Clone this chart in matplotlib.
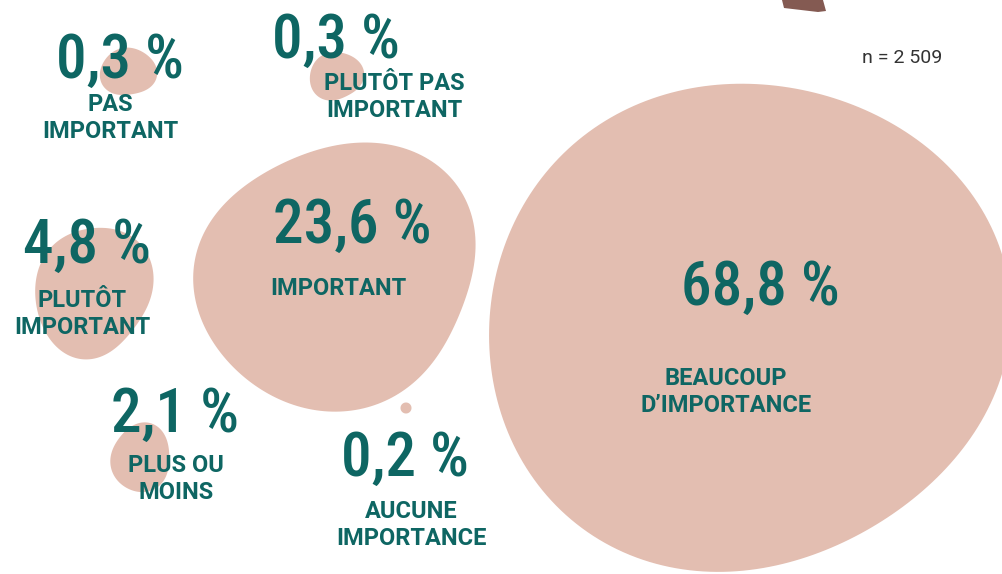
import numpy as np
import matplotlib
matplotlib.use('Agg')
import matplotlib.pyplot as plt
from matplotlib.patches import Polygon

# --- Daten ---
values = [0.3, 0.3, 23.6, 4.8, 68.8, 2.1, 0.2]
labels = ['PAS\nIMPORTANT', 'PLUTÔT PAS\nIMPORTANT', 'IMPORTANT', 'PLUTÔT\nIMPORTANT',
          'BEAUCOUP\nD\u2019IMPORTANCE', 'PLUS OU\nMOINS', 'AUCUNE\nIMPORTANCE']
n_total = '2 509'

# --- Layout (Pixel, y nach unten) ---
blob_xy = [(128, 72), (336, 76), (337, 275), (93, 291), (745, 326), (141, 458), (406, 408)]
blob_r = [(27, 25), (26, 25), (143, 130), (58, 66), (256, 248), (31, 33), (5.5, 5.5)]
blob_rot = [0.3, 0.8, 2.0, 1.4, 0.9, 2.6, 0.0]
blob_amp = [1.0, 1.0, 1.0, 1.0, 0.5, 1.0, 0.0]
num_xy = [(120, 78), (336, 58), (352, 243), (87, 263), (760, 305), (175, 432), (405, 476)]
lab_xy = [(110, 96), (394, 75), (338, 280), (82, 292), (726, 370), (176, 457), (411, 503)]

BLOB = '#e3beb1'
TEAL = '#0e6663'
NUMFONT = ['Liberation Sans Narrow', 'Roboto Condensed', 'DejaVu Sans']


def blob(cx, cy, rx, ry, rot, amp, n=240):
    t = np.linspace(0, 2 * np.pi, n)
    r = 1 + amp * (0.06 * np.cos(2 * t + rot) + 0.04 * np.sin(3 * t + 2 * rot))
    return np.column_stack([cx + rx * r * np.cos(t), cy + ry * r * np.sin(t)])


fig = plt.figure(figsize=(10.03, 5.74), dpi=100)
ax = fig.add_axes([0, 0, 1, 1])
ax.set_xlim(0, 1003); ax.set_ylim(574, 0); ax.axis('off')

for (cx, cy), (rx, ry), rot, amp in zip(blob_xy, blob_r, blob_rot, blob_amp):
    ax.add_patch(Polygon(blob(cx, cy, rx, ry, rot, amp), closed=True, fc=BLOB, ec='none', zorder=1))

# kleines Deko-Element oben rechts
ax.add_patch(Polygon([(782, 0), (823, 0), (826, 11), (818, 12), (784, 8)],
                     closed=True, fc='#845a52', ec='none', zorder=1))

for v, (x, y) in zip(values, num_xy):
    s = f'{v:.1f}'.replace('.', ',') + ' %'
    ax.text(x, y, s, ha='center', va='baseline', color=TEAL, fontsize=44,
            family=NUMFONT, fontweight='medium', zorder=3)

for lab, (x, y) in zip(labels, lab_xy):
    ax.text(x, y - 3, lab, ha='center', va='top', color=TEAL, fontsize=17,
            family='Roboto', fontweight='bold', linespacing=1.2, zorder=3)

ax.text(902, 63, f'n = {n_total}', ha='center', va='baseline', color='#333333',
        fontsize=14, family='Roboto')

fig.savefig('out.png', dpi=100)
